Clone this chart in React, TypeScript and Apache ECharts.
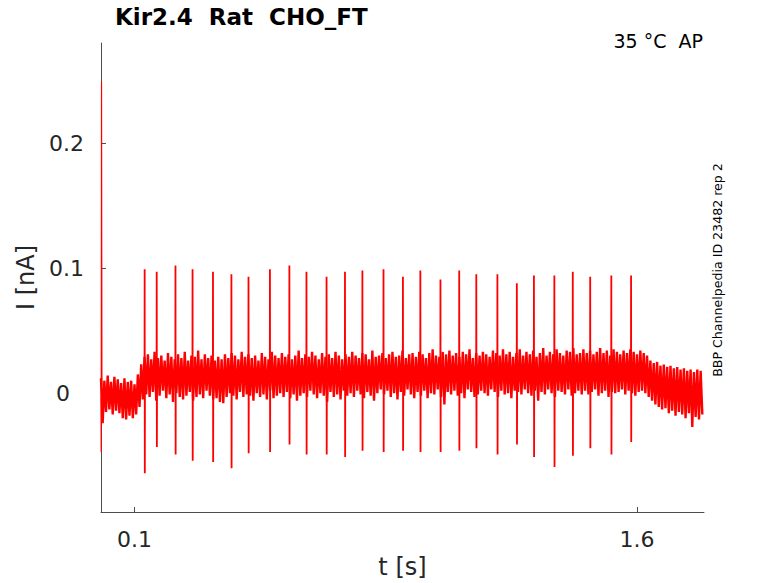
import React, { useEffect, useRef } from "react";
import * as echarts from "echarts";

// sampling step of the noise envelope (s)
const DT = 0.01;
// upper / lower extent of the noisy current in each 10 ms bin (pA)
const noiseHighPA = [
  12, 10, 14, 9, 13, 11, 8, 12, 9, 10, 7,
  15, 23, 29,
  31, 27, 33, 28, 30, 26, 32, 29, 27, 31,
  28, 33, 26, 30, 29, 34, 27, 31, 28, 30,
  26, 29, 27, 31, 28, 32, 30, 27, 33, 29,
  31, 28, 30, 26, 32, 29, 27, 33, 30, 28,
  32, 29, 31, 27, 30, 34, 28, 31, 29, 33,
  30, 27, 32, 29, 31, 28, 33, 30, 27, 31,
  29, 33, 30, 28, 32, 31, 27, 34, 29, 30,
  32, 28, 31, 33, 29, 30, 34, 28, 31, 32,
  29, 33, 31, 28, 32, 35, 30, 29, 33, 31,
  34, 30, 32, 29, 33, 31, 35, 28, 32, 30,
  33, 31, 29, 34, 32, 30, 35, 31, 33, 29,
  32, 35, 30, 33, 31, 34, 29, 32, 36, 30,
  33, 31, 35, 32, 30, 34, 33, 36, 31, 32,
  35, 32, 34, 31, 33, 36, 32, 34, 30, 35,
  33, 31, 34, 32, 35, 33, 31, 34, 32, 30,
  26, 24, 25, 22, 23, 21, 22, 20, 21, 19, 20, 18, 19, 17, 19, 18,
];
const noiseLowPA = [
  -24, -15, -13, -17, -14, -16, -20, -21, -18, -20, -17,
  -11, -5, -1,
  -3, 1, -6, -2, 2, -4, -1, -7, 0, -3,
  -5, -2, 1, -6, -3, -1, -4, 2, -2, -5,
  -4, -7, -8, -3, 0, -2, -5, 1, -3, -1,
  -2, -6, 0, -3, -1, -5, 2, -4, -2, 0,
  -3, 1, -4, -1, -6, -2, 0, -3, 2, -1,
  -4, 0, -2, -7, 1, -3, -1, -5, 2, -2,
  0, -3, 2, -1, -4, 1, -2, -6, 0, 3,
  -1, 2, -3, 0, -5, 1, -2, 3, -1, -4,
  1, -2, 2, -4, 0, -1, 3, -3, -9, 1,
  -1, 2, -2, 0, -4, 3, 1, -3, -1, 2,
  0, -2, 3, 1, -3, 2, -1, 0, -4, 2,
  1, -1, 3, 0, -2, 2, -6, 1, -1, 3,
  0, -3, 2, 1, -1, 3, -2, 0, 2, -1,
  2, -1, 1, 3, -2, 0, 2, -3, 1, 0,
  1, 3, -1, 2, 0, -2, 1, 2, 0, -3,
  -6, -9, -11, -13, -12, -16, -14, -18, -15, -17, -20, -16, -27, -19, -21, -17,
];

// action-potential-clamp evoked spikes (s, nA)
const spikeTimes = [
  0.13, 0.166, 0.222, 0.273, 0.334, 0.389, 0.44, 0.504, 0.562, 0.613, 0.673,
  0.728, 0.78, 0.843, 0.901, 0.953, 1.013, 1.069, 1.12, 1.183, 1.241, 1.292,
  1.353, 1.408, 1.46, 1.523, 1.582,
];
const spikePeaks = [
  0.099, 0.097, 0.102, 0.099, 0.097, 0.095, 0.093, 0.099, 0.102, 0.097, 0.093,
  0.097, 0.098, 0.099, 0.093, 0.098, 0.091, 0.098, 0.095, 0.095, 0.088, 0.094,
  0.094, 0.097, 0.093, 0.094, 0.094,
];
const spikeTroughs = [
  -0.064, -0.043, -0.049, -0.054, -0.055, -0.06, -0.048, -0.047, -0.041, -0.049, -0.049,
  -0.051, -0.046, -0.047, -0.046, -0.047, -0.047, -0.046, -0.044, -0.049, -0.041, -0.051,
  -0.059, -0.05, -0.044, -0.049, -0.039,
];
const spikeBase = 0.015;

// capacitive transient at the start of the sweep
const transientT = [0, 0.0006, 0.0016, 0.0028, 0.004];
const transientI = [-0.004, -0.047, 0.249, -0.012, 0.004];

const xTicks = [0.1, 1.6];
const yTicks = [0, 0.1, 0.2];

const FONT = "DejaVu Sans";
const TXT = "#262626";
const RED = "#ff0000";

export default function App() {
  const ref = useRef<HTMLDivElement>(null);

  useEffect(() => {
    document.body.style.margin = "0";
    if (!ref.current) return;
    const chart = echarts.init(ref.current, undefined, { renderer: "svg" });

    const band: number[][] = [];
    noiseHighPA.forEach((h, i) => {
      band.push([i * DT, h / 1000]);
      band.push([i * DT + DT / 2, noiseLowPA[i] / 1000]);
    });

    const spikes: number[][] = [];
    spikeTimes.forEach((t, i) => {
      spikes.push([t, spikeBase]);
      spikes.push([t + 0.0003, spikePeaks[i]]);
      spikes.push([t + 0.0008, spikeTroughs[i]]);
      spikes.push([t + 0.0012, spikeBase]);
    });

    const transient = transientT.map((t, i) => [t, transientI[i]]);

    const axisLine = { show: true, onZero: false, lineStyle: { color: "#4d4d4d", width: 1 } };

    chart.setOption({
      animation: false,
      backgroundColor: "#ffffff",
      grid: { left: 101, right: 74, top: 43, bottom: 71, containLabel: false, outerBoundsMode: "none" },
      xAxis: {
        type: "value",
        min: 0,
        max: 1.8,
        name: "t [s]",
        nameLocation: "middle",
        nameGap: 43,
        nameTextStyle: { fontFamily: FONT, fontSize: 24, color: TXT },
        axisLine,
        axisTick: { show: true, inside: true, length: 5, customValues: xTicks, lineStyle: { color: "#4d4d4d" } },
        axisLabel: {
          customValues: xTicks,
          formatter: (v: number) => String(v),
          fontFamily: FONT,
          fontSize: 22,
          color: TXT,
          margin: 16,
        },
        splitLine: { show: false },
      },
      yAxis: {
        type: "value",
        min: -0.095,
        max: 0.28,
        name: "I [nA]",
        nameLocation: "middle",
        nameGap: 60,
        nameTextStyle: { fontFamily: FONT, fontSize: 24, color: TXT },
        axisLine,
        axisTick: { show: true, inside: true, length: 5, customValues: yTicks, lineStyle: { color: "#4d4d4d" } },
        axisLabel: {
          customValues: yTicks,
          formatter: (v: number) => (v === 0 ? "{z|0}" : "{n|" + String(v) + "}"),
          fontFamily: FONT,
          fontSize: 22,
          color: TXT,
          margin: 17,
          rich: {
            z: { fontFamily: FONT, fontSize: 22, color: TXT, padding: [0, 14, 0, 0] },
            n: { fontFamily: FONT, fontSize: 22, color: TXT },
          },
        },
        splitLine: { show: false },
      },
      graphic: [
        {
          type: "text",
          x: 115,
          y: 17,
          style: {
            text: "Kir2.4  Rat  CHO_FT",
            font: `bold 23px "${FONT}"`,
            fill: "#000000",
            textAlign: "left",
            textVerticalAlign: "middle",
          },
        },
        {
          type: "text",
          x: 703,
          y: 41,
          style: {
            text: "35 °C  AP",
            font: `19px "${FONT}"`,
            fill: "#000000",
            textAlign: "right",
            textVerticalAlign: "middle",
          },
        },
        {
          type: "text",
          x: 717,
          y: 270,
          rotation: Math.PI / 2,
          style: {
            text: "BBP Channelpedia ID 23482 rep 2",
            font: `12.6px "${FONT}"`,
            fill: "#000000",
            textAlign: "center",
            textVerticalAlign: "middle",
          },
        },
      ],
      series: [
        {
          type: "line",
          data: band,
          showSymbol: false,
          symbol: "none",
          lineStyle: { color: RED, width: 2.4, join: "miter", miterLimit: 2 },
          clip: true,
          z: 3,
        },
        {
          type: "line",
          data: spikes,
          showSymbol: false,
          symbol: "none",
          lineStyle: { color: RED, width: 1.8 },
          clip: true,
          z: 4,
        },
        {
          type: "line",
          data: transient,
          showSymbol: false,
          symbol: "none",
          lineStyle: { color: RED, width: 1.2 },
          clip: true,
          z: 4,
        },
      ],
    });

    return () => chart.dispose();
  }, []);

  return <div ref={ref} style={{ width: 778, height: 583 }} />;
}
